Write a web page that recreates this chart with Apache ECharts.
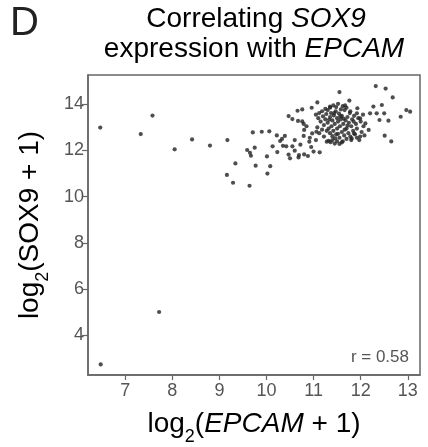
<!DOCTYPE html>
<html><head><meta charset="utf-8">
<script src="https://cdn.jsdelivr.net/npm/echarts@6/dist/echarts.min.js"></script>
<style>html,body{margin:0;padding:0;background:#fff}#c{width:428px;height:447px}</style>
</head><body><div id="c"></div>
<script>
const xTicks = [7, 8, 9, 10, 11, 12, 13];
const yTicks = [4, 6, 8, 10, 12, 14];
const correlationLabel = 'r = 0.58';
// [log2(EPCAM+1), log2(SOX9+1)]
const outlierPoints = [
  [6.48, 2.73], [7.72, 5.0], [6.47, 12.99], [7.33, 12.71], [7.58, 13.51],
  [8.05, 12.05], [8.42, 12.48], [8.80, 12.21], [9.17, 12.45], [9.16, 10.94],
  [9.34, 11.44], [9.29, 10.60], [9.59, 12.02], [9.64, 10.47], [9.65, 11.9]
];
const spreadPoints = [
  [9.77, 11.34], [10.02, 11.0], [10.08, 11.32], [9.67, 11.77], [9.75, 12.12],
  [9.71, 12.78], [9.90, 12.81], [10.06, 12.83], [10.01, 11.74], [10.13, 12.18],
  [10.23, 11.93], [10.22, 12.65], [10.29, 12.41], [10.33, 12.5], [10.39, 12.63],
  [10.42, 12.18], [10.47, 11.82], [10.50, 11.66], [10.55, 12.18], [10.60, 11.99],
  [10.68, 11.70], [10.69, 11.80], [10.80, 11.83], [10.88, 11.76], [11.0, 11.95],
  [11.13, 11.92], [10.91, 12.38], [10.79, 12.63], [10.80, 12.89], [10.97, 12.74],
  [11.06, 12.81], [10.47, 13.49], [10.55, 13.36], [10.67, 13.28], [10.76, 13.26],
  [10.79, 13.15], [10.66, 13.72], [10.76, 13.78], [10.96, 13.85], [11.08, 14.08],
  [11.35, 13.90], [11.55, 14.53], [11.67, 13.95], [11.76, 14.16], [12.32, 14.79],
  [12.53, 14.68], [12.68, 14.30], [12.27, 13.90], [12.45, 13.97], [12.20, 13.61],
  [12.34, 13.61], [12.50, 13.61], [12.40, 13.32], [12.59, 13.29], [12.51, 12.64],
  [12.65, 12.39], [12.85, 13.46], [12.97, 13.75], [13.05, 13.68], [12.17, 12.89],
  [12.10, 13.17], [11.99, 12.60], [11.92, 13.61], [11.93, 13.83], [11.99, 13.39],
  [12.06, 13.05], [11.86, 12.74], [11.81, 12.52], [10.85, 13.05], [10.92, 12.55]
];
const densePoints = [
  [11.05, 13.55], [11.10, 13.40], [11.12, 13.62], [11.15, 13.25], [11.18, 13.70],
  [11.20, 13.48], [11.22, 13.10], [11.25, 13.35], [11.27, 13.58], [11.30, 13.75],
  [11.30, 13.20], [11.32, 12.95], [11.35, 13.45], [11.37, 13.62], [11.38, 13.05],
  [11.40, 13.30], [11.42, 12.85], [11.43, 13.52], [11.45, 13.15], [11.47, 13.70],
  [11.48, 12.70], [11.50, 13.40], [11.50, 12.95], [11.52, 13.25], [11.54, 13.60],
  [11.55, 12.55], [11.56, 13.05], [11.58, 13.35], [11.60, 12.80], [11.60, 13.50],
  [11.62, 12.40], [11.63, 13.15], [11.65, 12.65], [11.66, 13.75], [11.68, 13.30],
  [11.70, 12.50], [11.70, 12.95], [11.72, 13.45], [11.74, 12.75], [11.75, 13.20],
  [11.77, 13.62], [11.78, 12.60], [11.80, 13.05], [11.82, 13.35], [11.84, 12.85],
  [11.86, 13.50], [11.88, 12.70], [11.90, 13.15], [11.92, 12.95], [11.95, 13.40],
  [11.97, 12.45], [12.00, 13.25], [12.02, 12.80], [12.05, 13.55], [11.28, 12.38],
  [11.32, 12.42], [11.36, 12.36], [11.40, 12.45], [11.45, 12.30], [11.50, 12.40],
  [11.55, 12.28], [11.60, 12.35], [11.08, 13.00], [11.12, 12.75], [11.18, 12.90],
  [11.22, 12.60], [11.25, 13.80], [11.35, 13.85], [11.42, 13.95], [11.48, 13.88],
  [11.52, 14.02], [11.58, 13.78], [11.62, 13.92], [11.70, 13.85], [11.78, 13.70],
  [11.85, 13.25], [11.40, 12.62], [11.46, 12.52], [11.35, 12.75], [11.28, 12.85],
  [11.52, 12.72], [11.66, 12.90], [11.72, 13.08], [11.44, 13.62], [11.33, 13.33],
  [11.57, 13.48], [11.64, 13.38], [11.80, 12.45], [11.92, 12.55], [12.08, 12.65],
  [10.35, 12.20], [10.60, 12.45], [10.72, 12.25], [10.95, 12.15], [11.05, 12.45]
];
const allPoints = outlierPoints.concat(spreadPoints, densePoints);

const chart = echarts.init(document.getElementById('c'));
const FF = 'Liberation Sans, Arial, sans-serif';
const textCol = '#3a3a3a';
const big = 28;
chart.setOption({
  animation: false,
  backgroundColor: '#fff',
  grid: { left: 88, top: 75, right: 8, bottom: 72, show: true, borderColor: '#666', borderWidth: 1.5 },
  xAxis: {
    type: 'value', min: 6.21, max: 13.26,
    splitLine: { show: false },
    axisLine: { show: true, onZero: false, lineStyle: { color: '#666', width: 1.5 } },
    axisTick: { show: true, length: 5, lineStyle: { color: '#666', width: 1.2 }, customValues: xTicks },
    axisLabel: { fontFamily: FF, fontSize: 18, color: '#555', margin: 7, customValues: xTicks }
  },
  yAxis: {
    type: 'value', min: 2.27, max: 15.27,
    splitLine: { show: false },
    axisLine: { show: true, onZero: false, lineStyle: { color: '#666', width: 1.5 } },
    axisTick: { show: true, length: 6, lineStyle: { color: '#666', width: 1.2 }, customValues: yTicks },
    axisLabel: { fontFamily: FF, fontSize: 18, color: '#555', margin: 4, customValues: yTicks }
  },
  series: [{
    type: 'scatter', data: allPoints, symbolSize: 4.2,
    itemStyle: { color: '#222' }
  }],
  graphic: [
    { type: 'text', left: 10, top: 4, style: { text: 'D', font: '40px ' + FF, fill: '#222' } },
    { type: 'text', x: 256, y: 19, style: {
        text: '{n|Correlating }{i|SOX9}', align: 'center', verticalAlign: 'middle',
        rich: { n: { fontFamily: FF, fontSize: big, color: textCol }, i: { fontFamily: FF, fontSize: big, fontStyle: 'italic', color: textCol } } } },
    { type: 'text', x: 254, y: 49, style: {
        text: '{n|expression with }{i|EPCAM}', align: 'center', verticalAlign: 'middle',
        rich: { n: { fontFamily: FF, fontSize: big, color: textCol }, i: { fontFamily: FF, fontSize: big, fontStyle: 'italic', color: textCol } } } },
    { type: 'text', x: 254, y: 424, style: {
        text: '{n|log}{s|2}{n|(}{i|EPCAM}{n| + 1)}', align: 'center', verticalAlign: 'middle',
        rich: { n: { fontFamily: FF, fontSize: big, color: textCol, verticalAlign: 'bottom' }, i: { fontFamily: FF, fontSize: big, fontStyle: 'italic', color: textCol, verticalAlign: 'bottom' }, s: { fontFamily: FF, fontSize: 18, color: textCol, verticalAlign: 'bottom', padding: [0, 0, -8, 0] } } } },
    { type: 'text', x: 30, y: 225, rotation: Math.PI / 2, style: {
        text: '{n|log}{s|2}{n|(SOX9 + 1)}', align: 'center', verticalAlign: 'middle',
        rich: { n: { fontFamily: FF, fontSize: big, color: textCol, verticalAlign: 'bottom' }, s: { fontFamily: FF, fontSize: 18, color: textCol, verticalAlign: 'bottom', padding: [0, 0, -8, 0] } } } },
    { type: 'text', right: 19, top: 349, style: { text: correlationLabel, font: '17px ' + FF, fill: '#555' } }
  ]
});
</script></body></html>
